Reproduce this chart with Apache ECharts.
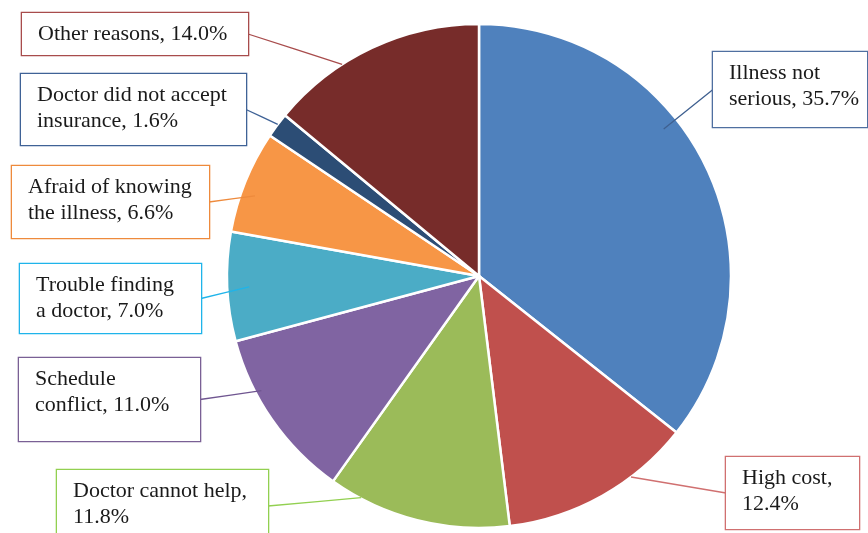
<!DOCTYPE html>
<html>
<head>
<meta charset="utf-8">
<script src="https://cdn.jsdelivr.net/npm/echarts@6/dist/echarts.min.js"></script>
<style>
html,body{margin:0;padding:0;background:#fff;}
#chart{width:868px;height:533px;}
</style>
</head>
<body>
<div id="chart"></div>
<script>
// ---- data ----
const categories = [
  'Illness not serious',
  'High cost',
  'Doctor cannot help',
  'Schedule conflict',
  'Trouble finding a doctor',
  'Afraid of knowing the illness',
  'Doctor did not accept insurance',
  'Other reasons'
];
const values = [35.7, 12.4, 11.8, 11.0, 7.0, 6.6, 1.6, 14.0];

// ---- styling / layout ----
const sliceColors = ['#4F81BD', '#C0504D', '#9BBB59', '#8064A2', '#4BACC6', '#F79646', '#2C4D75', '#772C2A'];
const boxColors   = ['#4F6FA0', '#D07070', '#92D050', '#7A6095', '#1FB4EA', '#EE8A3C', '#3F6296', '#A84C4C'];
const lineColors  = ['#3F6090', '#D07070', '#92D050', '#6F5590', '#1FB4EA', '#EE8A3C', '#3F6296', '#A84C4C'];
const wrapAfter   = [2, 2, 3, 1, 2, 3, 4, 0];
// label boxes: left, top, width, height, side where the line attaches
const boxes = [
  [713, 52, 154, 75, 'left'],
  [726, 457, 133, 72, 'left'],
  [57, 470, 211, 72, 'right'],
  [19, 358, 181, 83, 'right'],
  [20, 264, 181, 69, 'right'],
  [12, 166, 197, 72, 'right'],
  [21, 74, 225, 71, 'right'],
  [22, 13, 226, 42, 'right']
];
// where each label line meets its slice: angle (deg, clockwise from top), radius
const anchors = [[51.5, 236], [142.9, 252], [208, 251], [242.2, 246], [267.3, 230], [289.7, 238], [307, 252], [327.1, 252]];

const CX = 479, CY = 276, R = 252;
const PAD_T = 8, PAD_L = 16, PAD_R = 6, LINE_H = 26;

function labelText(i) {
  const words = (categories[i] + ', ' + values[i].toFixed(1) + '%').split(' ');
  const k = wrapAfter[i];
  if (!k) return words.join(' ');
  return words.slice(0, k).join(' ') + '\n' + words.slice(k).join(' ');
}

const sliceData = categories.map((name, i) => ({
  name: name,
  value: values[i],
  itemStyle: { color: sliceColors[i] }
}));

const labelData = categories.map((name, i) => {
  const b = boxes[i];
  const lines = wrapAfter[i] ? 2 : 1;
  const padB = b[3] - PAD_T - lines * LINE_H;
  return {
    name: name,
    value: values[i],
    itemStyle: { color: 'rgba(0,0,0,0)', borderWidth: 0 },
    label: {
      width: b[2] - PAD_L - PAD_R,
      padding: [PAD_T, PAD_R, padB, PAD_L],
      borderColor: boxColors[i]
    },
    labelLine: { lineStyle: { color: lineColors[i] } }
  };
});

const chart = echarts.init(document.getElementById('chart'), null, { renderer: 'canvas' });
chart.setOption({
  animation: false,
  backgroundColor: '#ffffff',
  series: [{
    type: 'pie',
    center: [CX, CY],
    radius: R,
    startAngle: 90,
    clockwise: true,
    silent: true,
    data: sliceData,
    itemStyle: { borderColor: '#ffffff', borderWidth: 2.5 },
    label: { show: false },
    labelLine: { show: false }
  }, {
    type: 'pie',
    center: [CX, CY],
    radius: R,
    startAngle: 90,
    clockwise: true,
    avoidLabelOverlap: false,
    silent: true,
    z: 5,
    data: labelData,
    label: {
      show: true,
      position: 'outside',
      formatter: (p) => labelText(p.dataIndex),
      fontFamily: '"Liberation Serif", "Times New Roman", serif',
      fontSize: 22,
      lineHeight: LINE_H,
      overflow: 'none',
      color: '#1a1a1a',
      opacity: 1,
      backgroundColor: '#ffffff',
      borderWidth: 1.3,
      align: 'left'
    },
    labelLine: {
      show: true,
      length: 10,
      length2: 10,
      lineStyle: { width: 1.3, opacity: 1 }
    },
    labelLayout: function (params) {
      const i = params.dataIndex;
      const b = boxes[i];
      const a = anchors[i];
      const rad = a[0] * Math.PI / 180;
      const ax = CX + a[1] * Math.sin(rad);
      const ay = CY - a[1] * Math.cos(rad);
      const bx = b[4] === 'left' ? b[0] : b[0] + b[2];
      const by = b[1] + b[3] / 2;
      return {
        x: b[0],
        y: b[1],
        align: 'left',
        verticalAlign: 'top',
        labelLinePoints: [[ax, ay], [(ax + bx) / 2, (ay + by) / 2], [bx, by]]
      };
    }
  }]
});
</script>
</body>
</html>
